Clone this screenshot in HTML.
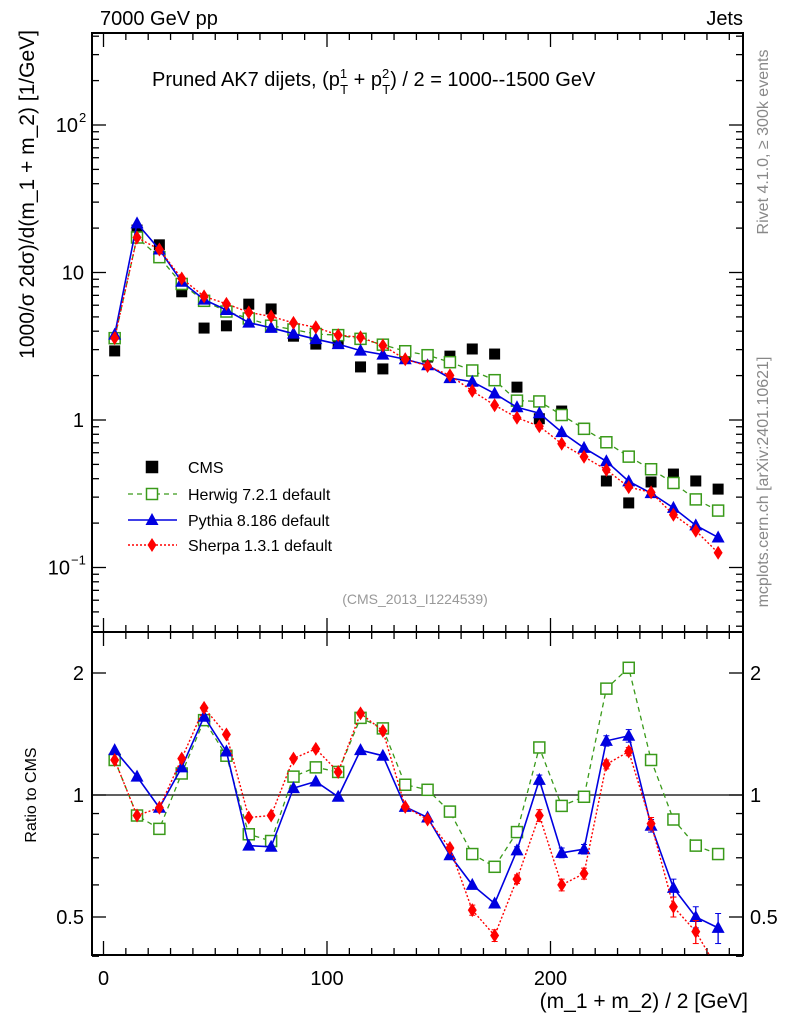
<!DOCTYPE html>
<html><head><meta charset="utf-8"><style>
body{margin:0;background:#fff;}
svg{display:block;font-family:"Liberation Sans",sans-serif;}
</style></head><body>
<svg id="c" width="786" height="1024" viewBox="0 0 786 1024" xmlns="http://www.w3.org/2000/svg"></svg>
<script>
const bins=[5,15,25,35,45,55,65,75,85,95,105,115,125,135,145,155,165,175,185,195,205,215,225,235,245,255,265,275];
const cmsVals=[2.94,19.4,15.4,7.4,4.2,4.35,6.1,5.66,3.7,3.27,3.3,2.29,2.22,2.76,2.67,2.71,3.03,2.8,1.67,1.02,1.15,0.88,0.386,0.274,0.38,0.43,0.386,0.34];
const herwigRatio=[1.22,0.89,0.825,1.13,1.53,1.25,0.80,0.77,1.11,1.17,1.14,1.55,1.46,1.06,1.03,0.91,0.715,0.665,0.81,1.31,0.94,0.99,1.83,2.06,1.22,0.87,0.75,0.715];
const pythiaRatio=[1.29,1.11,0.93,1.17,1.56,1.28,0.75,0.745,1.04,1.08,0.99,1.29,1.25,0.935,0.88,0.71,0.60,0.54,0.73,1.09,0.72,0.735,1.36,1.40,0.84,0.59,0.50,0.47];
const sherpaRatio=[1.22,0.89,0.93,1.23,1.64,1.41,0.88,0.89,1.23,1.30,1.14,1.59,1.44,0.935,0.87,0.74,0.52,0.45,0.62,0.89,0.60,0.64,1.19,1.28,0.85,0.53,0.46,0.37];
const herwigErr=[0,0,0,0,0,0,0,0,0,0,0,0,0,0,0,0,0,0,0,0,0,0,0,0,0,0,0,0.01];
const pythiaErr=[0,0,0,0,0.02,0,0,0,0,0,0,0,0,0,0,0,0,0,0.015,0.03,0.02,0.02,0.04,0.05,0.03,0.03,0.03,0.04];
const sherpaErr=[0,0,0,0,0.02,0,0,0,0,0,0,0.02,0,0,0,0,0.015,0.015,0.015,0.03,0.02,0.02,0.03,0.03,0.03,0.03,0.03,0.03];
const xTicks=[0,100,200];
const yTicksMain=[{v:0.1,l:"10",e:"−1"},{v:1,l:"1"},{v:10,l:"10"},{v:100,l:"10",e:"2"}];
const yTicksRatio=[{v:0.5,l:"0.5"},{v:1,l:"1"},{v:2,l:"2"}];

const S=document.getElementById('c'),NS="http://www.w3.org/2000/svg";
function el(t,a,p){const e=document.createElementNS(NS,t);for(const k in a)e.setAttribute(k,a[k]);(p||S).appendChild(e);return e;}
const L=92,R=743,MT=33,MB=632,RB=955;
const X=v=>103.5+v*2.235;
const YM=v=>420-Math.log10(v)*147.5;
const YR=v=>795-Math.log2(v)*122;
const clipM=el('clipPath',{id:'cm'});el('rect',{x:L,y:MT,width:R-L,height:MB-MT},clipM);
const clipR=el('clipPath',{id:'cr'});el('rect',{x:L,y:MB,width:R-L,height:RB-MB},clipR);

function txt(x,y,s,a,name){const t=el('text',Object.assign({x:x,y:y},a));t.textContent=s;

return t;}

const f1=el('rect',{x:L,y:MT,width:R-L,height:MB-MT,fill:'none',stroke:'#000','stroke-width':2});


const f2=el('rect',{x:L,y:MB,width:R-L,height:RB-MB,fill:'none',stroke:'#000','stroke-width':2});



for(let v=0;v<=280;v+=10){const x=X(v),len=v%100===0?14:7;
[[MT,1],[MB,-1],[MB,1],[RB,-1]].forEach(([y,d])=>el('line',{x1:x,x2:x,y1:y,y2:y+d*len,stroke:'#000','stroke-width':1.3}));}
xTicks.forEach(v=>txt(X(v),985,String(v),{'font-size':20,'text-anchor':'middle'},'x-tick-label'));
txt(748,1008,"(m_1 + m_2) / 2 [GeV]",{'font-size':21,'text-anchor':'end'},'x-axis-title');

for(let d=-2;d<=2;d++)for(let m=1;m<10;m++){const v=m*Math.pow(10,d),y=YM(v);if(y<MT||y>MB)continue;const len=m===1?14:7;
el('line',{x1:L,x2:L+len,y1:y,y2:y,stroke:'#000','stroke-width':1.3});el('line',{x1:R,x2:R-len,y1:y,y2:y,stroke:'#000','stroke-width':1.3});}
yTicksMain.forEach(t=>{
 if(!t.e){txt(84,YM(t.v)+7,t.l,{'font-size':20,'text-anchor':'end'},'y-tick-label');return;}
 const xe=t.e.length>1?70:78;
 txt(xe,YM(t.v)+7,t.l,{'font-size':20,'text-anchor':'end'},'y-tick-label');
 txt(xe+1,YM(t.v)-3,t.e,{'font-size':13},'y-tick-exponent');});
[0.4,0.5,0.6,0.7,0.8,0.9,1,2].forEach(v=>{const y=YR(v);const len=(v===0.5||v===1||v===2)?14:7;
el('line',{x1:L,x2:L+len,y1:y,y2:y,stroke:'#000','stroke-width':1.3});el('line',{x1:R,x2:R-len,y1:y,y2:y,stroke:'#000','stroke-width':1.3});});
yTicksRatio.forEach(t=>{txt(84,YR(t.v)+7,t.l,{'font-size':20,'text-anchor':'end'},'ratio-y-tick-label');txt(750,YR(t.v)+7,t.l,{'font-size':20},'ratio-y-tick-label-right');});
const ref=el('line',{x1:L,x2:R,y1:YR(1),y2:YR(1),stroke:'#000','stroke-width':1.3});



txt(100,25,"7000 GeV pp",{'font-size':20},'beam-label');
txt(743,25,"Jets",{'font-size':20,'text-anchor':'end'},'analysis-group-label');
const tt=txt(152,86,"",{'font-size':20},'plot-title');
tt.innerHTML='Pruned AK7 dijets, (p<tspan dy="-8" font-size="13">1</tspan><tspan dx="-7" dy="16" font-size="13">T</tspan><tspan dy="-8"> + p</tspan><tspan dy="-8" font-size="13">2</tspan><tspan dx="-7" dy="16" font-size="13">T</tspan><tspan dy="-8">) / 2 = 1000--1500 GeV</tspan>';
txt(415,604,"(CMS_2013_I1224539)",{'font-size':14,fill:'#999','text-anchor':'middle'},'analysis-id-label');
txt(0,0,"1000/σ   2dσ)/d(m_1 + m_2) [1/GeV]",{'font-size':21,'text-anchor':'end',transform:'translate(34,30) rotate(-90)'},'y-axis-title');
txt(0,0,"Ratio to CMS",{'font-size':16,'text-anchor':'middle',transform:'translate(36,795) rotate(-90)'},'ratio-y-axis-title');
txt(0,0,"Rivet 4.1.0, ≥ 300k events",{'font-size':16,fill:'#888','text-anchor':'middle',transform:'translate(768,142) rotate(-90)'},'rivet-version-label');
txt(0,0,"mcplots.cern.ch [arXiv:2401.10621]",{'font-size':16,fill:'#888','text-anchor':'middle',transform:'translate(768,482) rotate(-90)'},'mcplots-label');

function sq(g,x,y,c,fill){return el('rect',{x:x-5.5,y:y-5.5,width:11,height:11,fill:fill?c:'#fff',stroke:c,'stroke-width':1.5},g);}
function tri(g,x,y,c){return el('polygon',{points:`${x},${y-7} ${x-6.5},${y+5} ${x+6.5},${y+5}`,fill:c},g);}
function dia(g,x,y,c){return el('polygon',{points:`${x},${y-7} ${x-4.5},${y} ${x},${y+7} ${x+4.5},${y}`,fill:c},g);}
const series=[
 {name:'herwig',ratio:herwigRatio,err:herwigErr,c:'#3a9a1a',dash:'5,4',w:1.3,mk:(g,x,y)=>sq(g,x,y,'#3a9a1a',false)},
 {name:'pythia',ratio:pythiaRatio,err:pythiaErr,c:'#0000e0',dash:'',w:1.6,mk:(g,x,y)=>tri(g,x,y,'#0000e0')},
 {name:'sherpa',ratio:sherpaRatio,err:sherpaErr,c:'#f00',dash:'2,2',w:1.4,mk:(g,x,y)=>dia(g,x,y,'#f00')}];
const gc=el('g',{'clip-path':'url(#cm)'});


bins.forEach((b,i)=>{const r=el('rect',{x:X(b)-5.5,y:YM(cmsVals[i])-5.5,width:11,height:11,fill:'#000'},gc);

});
series.forEach(s=>{
 const gm=el('g',{'clip-path':'url(#cm)'});
 
 
 const gr=el('g',{'clip-path':'url(#cr)'});
 
 
 const pm=bins.map((b,i)=>X(b)+','+YM(cmsVals[i]*s.ratio[i])).join(' ');
 const pr=bins.map((b,i)=>X(b)+','+YR(s.ratio[i])).join(' ');
 el('polyline',{points:pm,fill:'none',stroke:s.c,'stroke-width':s.w,'stroke-dasharray':s.dash},gm);
 el('polyline',{points:pr,fill:'none',stroke:s.c,'stroke-width':s.w,'stroke-dasharray':s.dash},gr);
 bins.forEach((b,i)=>{const v=s.ratio[i],e=s.err[i];
  if(e>0){const y1=YR(v+e),y2=YR(v-e);
   el('line',{x1:X(b),x2:X(b),y1:y1,y2:y2,stroke:s.c,'stroke-width':1.3},gr);
   el('line',{x1:X(b)-3,x2:X(b)+3,y1:y1,y2:y1,stroke:s.c},gr);el('line',{x1:X(b)-3,x2:X(b)+3,y1:y2,y2:y2,stroke:s.c},gr);}
  s.mk(gm,X(b),YM(cmsVals[i]*v));s.mk(gr,X(b),YR(v));});
});
const lg=el('g',{});


const legY=[467,494,520,545],legT=["CMS","Herwig 7.2.1 default","Pythia 8.186 default","Sherpa 1.3.1 default"];
sq(lg,152,legY[0],'#000',true);
series.forEach((s,i)=>{el('line',{x1:128,x2:177,y1:legY[i+1],y2:legY[i+1],stroke:s.c,'stroke-width':s.w,'stroke-dasharray':s.dash},lg);s.mk(lg,152,legY[i+1]);});
legT.forEach((t,i)=>{const e=el('text',{x:188,y:legY[i]+6,'font-size':16},lg);e.textContent=t;

});
</script>
</body></html>
